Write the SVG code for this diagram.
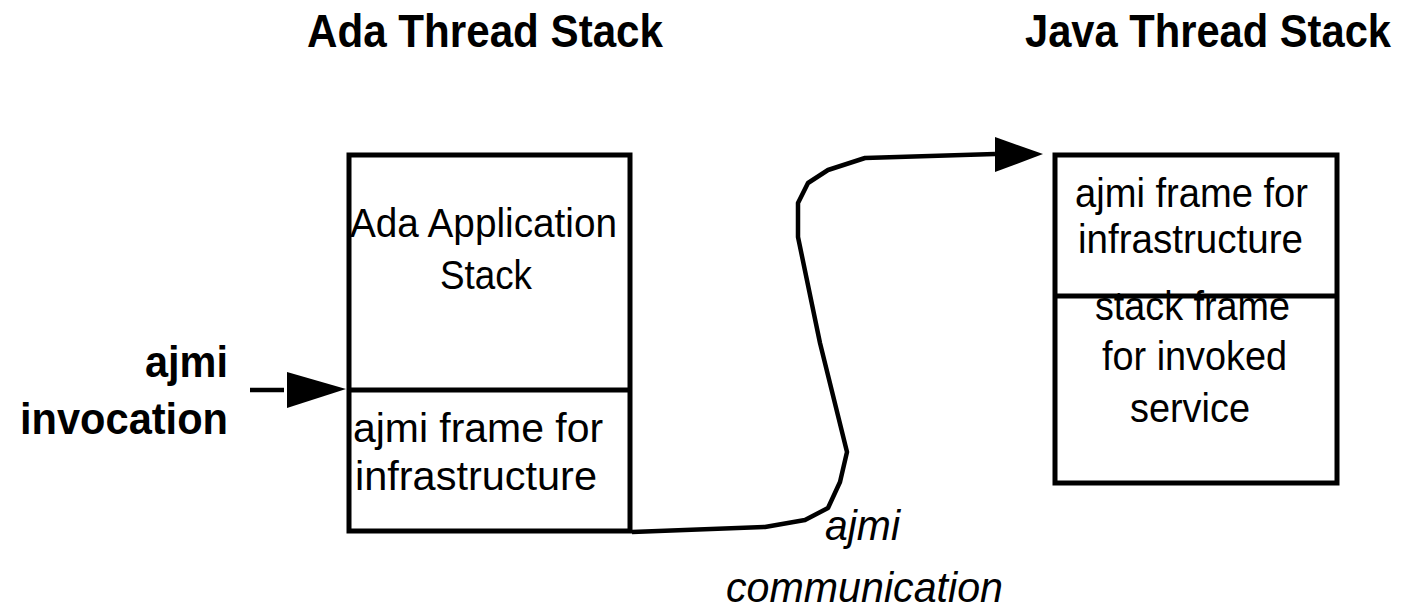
<svg xmlns="http://www.w3.org/2000/svg" width="1406" height="613" viewBox="0 0 1406 613">
  <style>
    .title { font-family: "Liberation Sans", Arial, sans-serif; font-size: 47px; font-weight: bold; fill: #000; }
    .label { font-family: "Liberation Sans", Arial, sans-serif; font-size: 44px; font-weight: bold; fill: #000; }
    .cell { font-family: "Liberation Sans", Arial, sans-serif; font-size: 41px; fill: #000; }
    .flow { font-family: "Liberation Sans", Arial, sans-serif; font-size: 42px; font-style: italic; fill: #000; }
    .box { fill: #fff; stroke: #000; stroke-width: 5; }
    .div { stroke: #000; stroke-width: 5; }
    .wire { fill: none; stroke: #000; stroke-width: 4.5; stroke-linejoin: round; }
    .head { fill: #000; }
  </style>

  <!-- Stack titles (horizontally condensed) -->
  <text class="title" transform="translate(307,47) scale(0.897,1)" x="0" y="0">Ada Thread Stack</text>
  <text class="title" transform="translate(1025,47) scale(0.887,1)" x="0" y="0">Java Thread Stack</text>

  <!-- Ada thread stack -->
  <g id="ada-stack">
    <rect class="box" x="349" y="155" width="281" height="376"/>
    <line class="div" x1="349" y1="390" x2="630" y2="390"/>
    <text class="cell" x="350" y="237" textLength="267" lengthAdjust="spacingAndGlyphs">Ada Application</text>
    <text class="cell" x="440" y="289" textLength="92" lengthAdjust="spacingAndGlyphs">Stack</text>
    <text class="cell" x="353" y="442" textLength="250" lengthAdjust="spacingAndGlyphs">ajmi frame for</text>
    <text class="cell" x="355" y="490" textLength="242" lengthAdjust="spacingAndGlyphs">infrastructure</text>
  </g>

  <!-- Java thread stack -->
  <g id="java-stack">
    <rect class="box" x="1055" y="155" width="282" height="328"/>
    <line class="div" x1="1055" y1="296" x2="1337" y2="296"/>
    <text class="cell" x="1075" y="207" textLength="233" lengthAdjust="spacingAndGlyphs">ajmi frame for</text>
    <text class="cell" x="1078" y="253" textLength="225" lengthAdjust="spacingAndGlyphs">infrastructure</text>
    <text class="cell" x="1095" y="320" textLength="195" lengthAdjust="spacingAndGlyphs">stack frame</text>
    <text class="cell" x="1102" y="370" textLength="185" lengthAdjust="spacingAndGlyphs">for invoked</text>
    <text class="cell" x="1130" y="422" textLength="120" lengthAdjust="spacingAndGlyphs">service</text>
  </g>

  <!-- Invocation label -->
  <g id="invocation">
    <text class="label" x="145" y="377" textLength="83" lengthAdjust="spacingAndGlyphs">ajmi</text>
    <text class="label" x="20" y="434" textLength="208" lengthAdjust="spacingAndGlyphs">invocation</text>
  </g>

  <!-- Communication label -->
  <g id="communication">
    <text class="flow" x="825" y="540" textLength="75" lengthAdjust="spacingAndGlyphs">ajmi</text>
    <text class="flow" x="726" y="602" textLength="277" lengthAdjust="spacingAndGlyphs">communication</text>
  </g>

  <!-- Connectors -->
  <g id="connectors">
    <line class="wire" x1="250" y1="390" x2="284" y2="390"/>
    <polygon class="head" points="287,372 287,408 346,389"/>
    <polyline class="wire" points="632,532 765,527 805,520 828,508 840,482 847,452 820,343 798,237 798,203 808,183 828,170 865,158 995,154"/>
    <polygon class="head" points="995,137 995,172 1043,154"/>
  </g>
</svg>
